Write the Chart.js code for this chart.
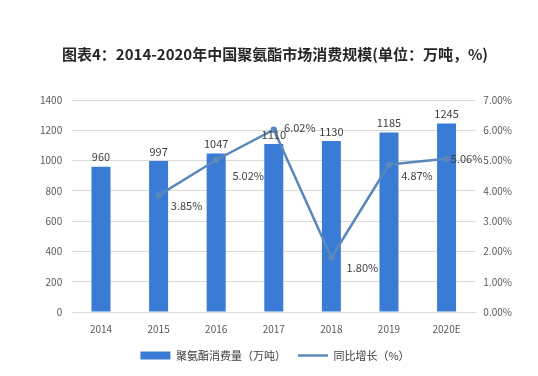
<!DOCTYPE html>
<html>
<head>
<meta charset="utf-8">
<script src="https://cdn.jsdelivr.net/npm/chart.js@4/dist/chart.umd.min.js"></script>
<style>
  html, body { margin: 0; padding: 0; background: #fff; }
  #wrap { width: 538px; height: 376px; position: relative; }
</style>
</head>
<body>
<div id="wrap"><canvas id="chart" width="538" height="376"></canvas></div>
<script>
const years = ['2014', '2015', '2016', '2017', '2018', '2019', '2020E'];
const consumption = [960, 997, 1047, 1110, 1130, 1185, 1245];
const growth = [null, 3.85, 5.02, 6.02, 1.80, 4.87, 5.06];

const FONT = '"Noto Sans CJK SC", "Liberation Sans", sans-serif';

// label offsets for the growth line (dx, dy from point)
const growthLabelOffset = [null, [28, 10], [32, 16], [26, -2], [31, 10], [28, 11], [20, 0]];

const valueLabels = {
  id: 'valueLabels',
  afterDatasetsDraw(chart) {
    const ctx = chart.ctx;
    ctx.save();
    ctx.font = '11px ' + FONT;
    ctx.fillStyle = '#404040';
    ctx.textAlign = 'center';
    ctx.textBaseline = 'bottom';
    chart.getDatasetMeta(0).data.forEach((bar, i) => {
      ctx.fillText(consumption[i], bar.x, bar.y - 4);
    });
    ctx.textBaseline = 'middle';
    chart.getDatasetMeta(1).data.forEach((pt, i) => {
      if (growth[i] === null) return;
      const off = growthLabelOffset[i];
      ctx.fillText(growth[i].toFixed(2) + '%', pt.x + off[0], pt.y + off[1]);
    });
    ctx.restore();
  }
};

new Chart(document.getElementById('chart'), {
  data: {
    labels: years,
    datasets: [
      {
        type: 'bar',
        label: '聚氨酯消费量（万吨）',
        data: consumption,
        backgroundColor: '#3a7bd5',
        barPercentage: 0.55,
        categoryPercentage: 0.6,
        yAxisID: 'y',
        order: 2
      },
      {
        type: 'line',
        label: '同比增长（%）',
        data: growth,
        borderColor: '#5a88bd',
        backgroundColor: '#5a88bd',
        borderWidth: 2.5,
        pointRadius: 2,
        pointBackgroundColor: '#5a88bd',
        tension: 0,
        yAxisID: 'y1',
        order: 1
      }
    ]
  },
  options: {
    responsive: false,
    animation: false,
    layout: { padding: { left: 30, right: 18, top: 0, bottom: 5 } },
    plugins: {
      title: {
        display: true,
        text: '图表4：2014-2020年中国聚氨酯市场消费规模(单位：万吨，%)',
        color: '#262626',
        font: { family: FONT, size: 15, weight: 'bold' },
        padding: { top: 45, bottom: 37 }
      },
      legend: {
        position: 'bottom',
        labels: {
          color: '#404040',
          font: { family: FONT, size: 11 },
          usePointStyle: true,
          pointStyleWidth: 30,
          boxHeight: 8,
          padding: 12,
          generateLabels(chart) {
            const items = Chart.defaults.plugins.legend.labels.generateLabels(chart);
            items.sort((a, b) => a.datasetIndex - b.datasetIndex);
            items.forEach(it => {
              if (it.datasetIndex === 0) {
                it.pointStyle = 'rect';
                it.lineWidth = 0;
              } else {
                it.pointStyle = 'line';
                it.lineWidth = 2.5;
              }
            });
            return items;
          }
        }
      },
      tooltip: { enabled: false }
    },
    scales: {
      x: {
        grid: { display: false },
        border: { color: '#d9d9d9' },
        ticks: { color: '#595959', font: { family: FONT, size: 10 } }
      },
      y: {
        position: 'left',
        min: 0,
        max: 1400,
        ticks: {
          stepSize: 200,
          color: '#595959',
          font: { family: FONT, size: 10 },
          padding: 10,
          callback: v => String(v)
        },
        grid: { color: '#d9d9d9', drawTicks: false },
        border: { display: false }
      },
      y1: {
        position: 'right',
        min: 0,
        max: 7,
        ticks: {
          stepSize: 1,
          color: '#595959',
          font: { family: FONT, size: 10 },
          padding: 8,
          callback: v => v.toFixed(2) + '%'
        },
        grid: { display: false, drawTicks: false },
        border: { display: false }
      }
    }
  },
  plugins: [valueLabels]
});
</script>
</body>
</html>
